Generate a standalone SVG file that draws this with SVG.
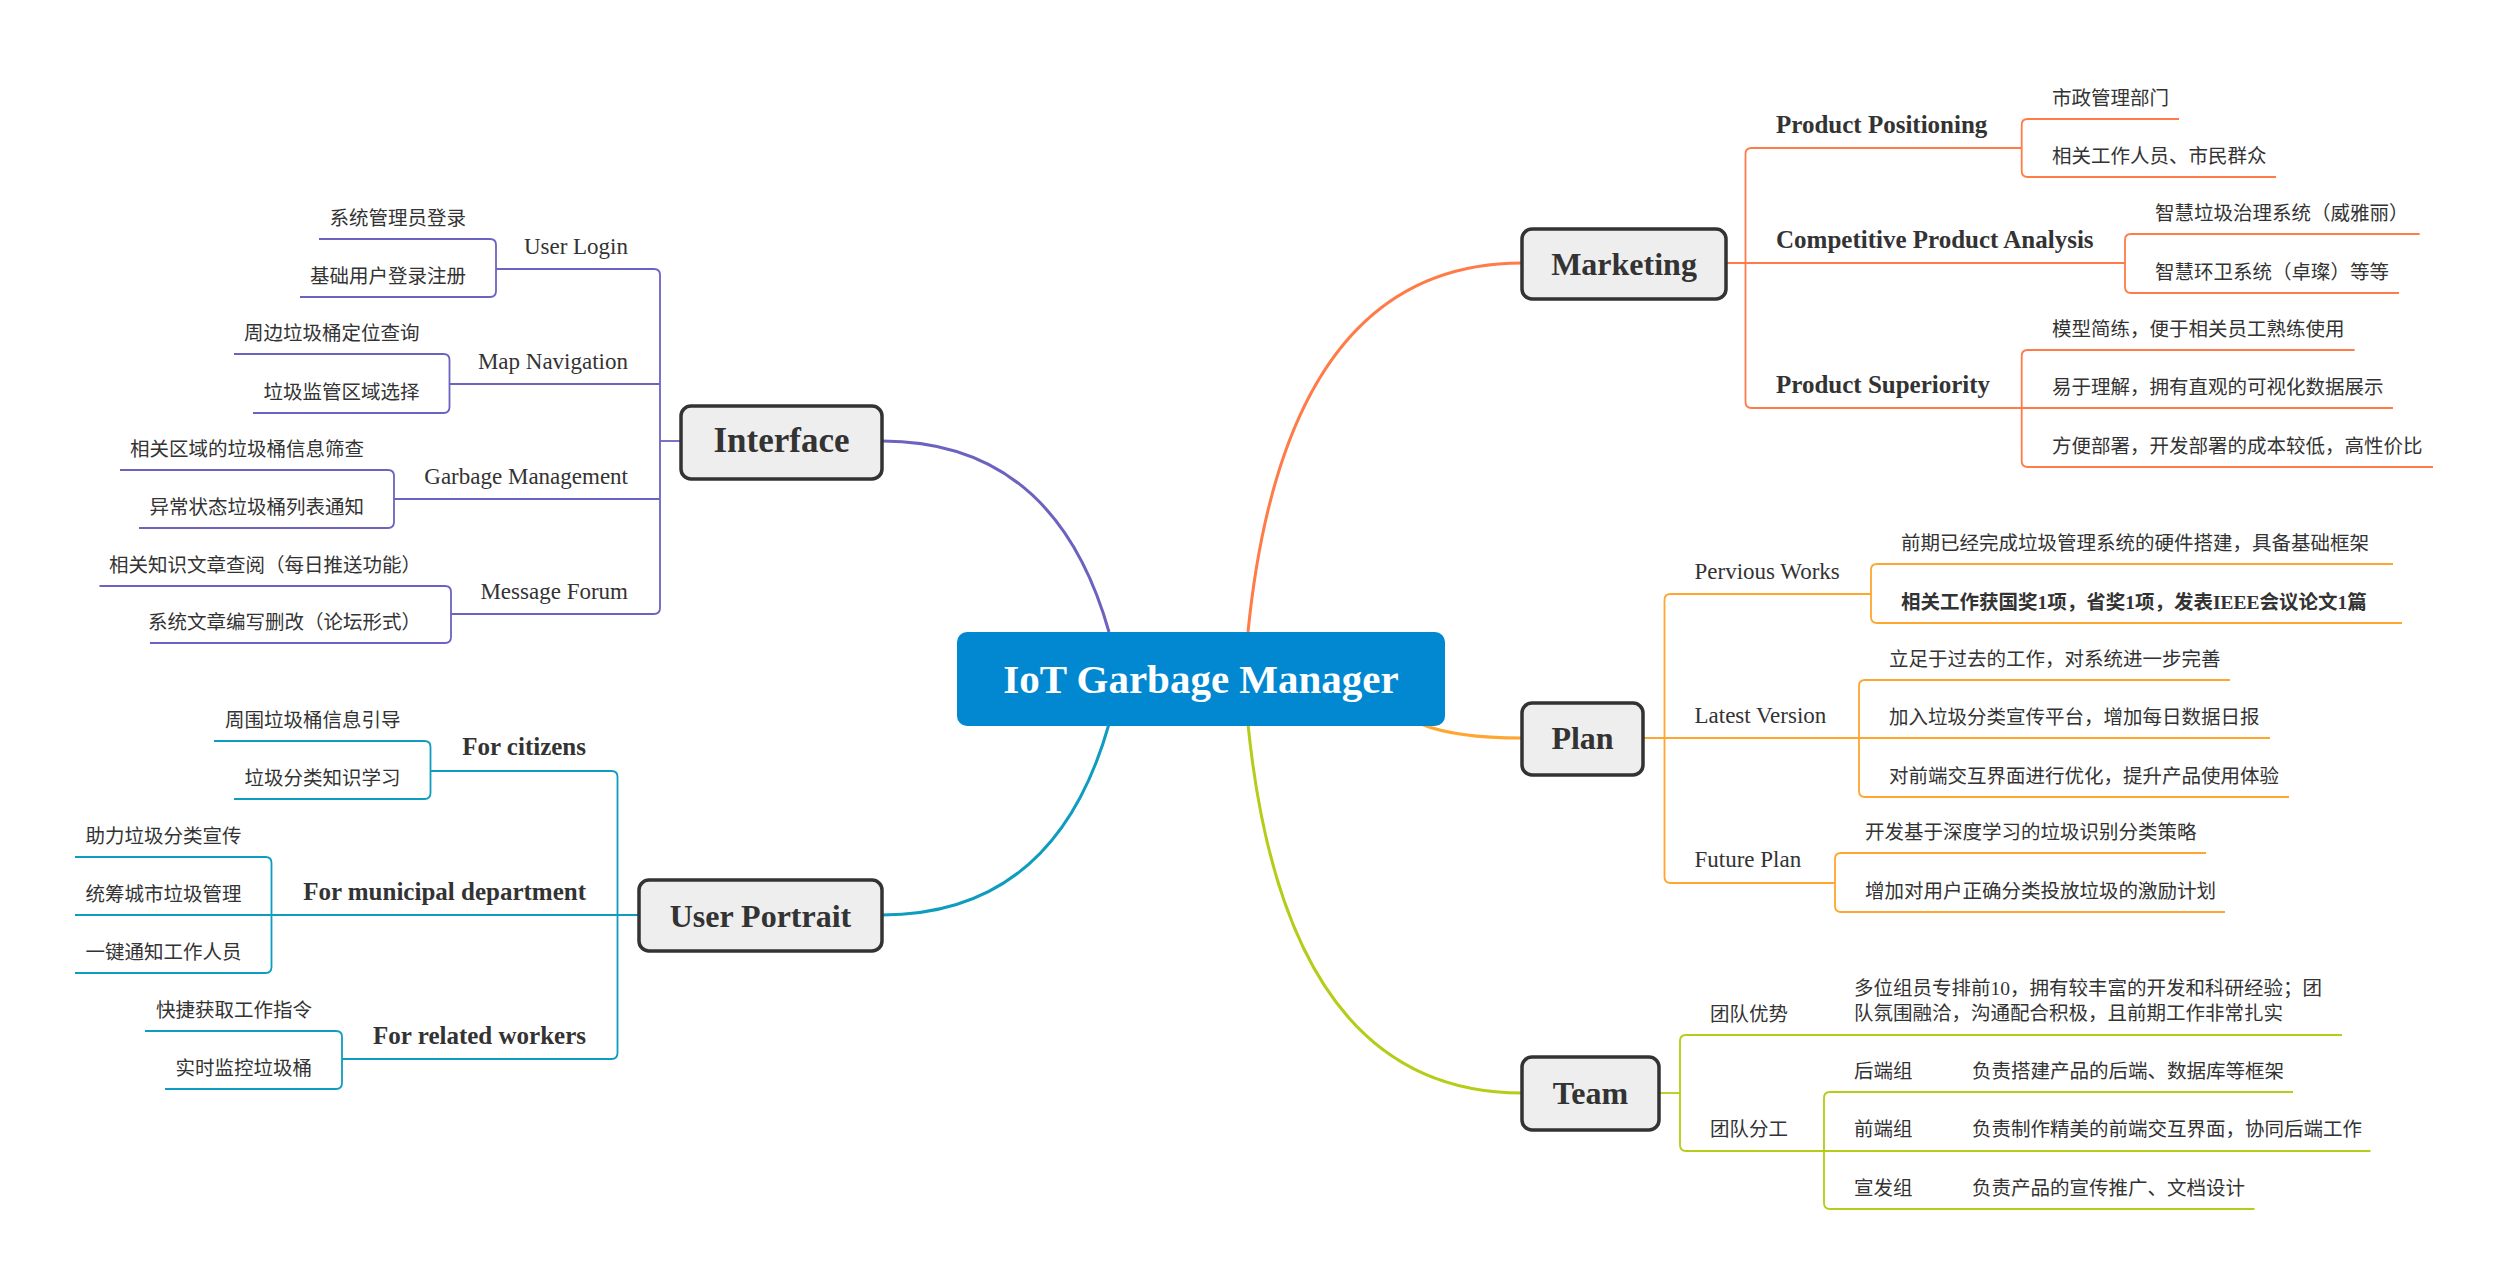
<svg xmlns="http://www.w3.org/2000/svg" width="2508" height="1285" viewBox="0 0 2508 1285">
<style>
.t{font-family:"Liberation Serif","Noto Sans CJK SC",serif;fill:#333333}
.cn{font-size:19.5px}
.sub{font-size:23px}
.subb{font-size:25px;font-weight:bold}
.cnb{font-size:19.5px;font-weight:bold}
.main{font-size:32px;font-weight:bold;text-anchor:middle}
.end{text-anchor:end}
.box{fill:#EEEEEE;stroke:#333333;stroke-width:3.5}
.ln{fill:none;stroke-width:1.8}
.cv{fill:none;stroke-width:3}
.pu{stroke:#6C63C0}
.te{stroke:#0E9DBF}
.or{stroke:#FF7B47}
.ye{stroke:#FFA630}
.li{stroke:#B5CC18}
</style>
<rect width="2508" height="1285" fill="#FFFFFF"/>
<g id="connectors">
  <path class="cv pu" d="M1109,632 Q1055,441 882,441"/>
  <path class="cv te" d="M1109,724 Q1055,915 882,915"/>
  <path class="cv or" d="M1248,632 Q1285,263 1522,263"/>
  <path class="cv li" d="M1248,724 Q1285,1093 1522,1093"/>
  <path class="cv ye" d="M1421,724 Q1455,738 1522,738"/>
  <!-- Interface -->
  <path class="ln pu" d="M681,441 H660"/>
  <path class="ln pu" d="M496,269 H654 Q660,269 660,275 V608 Q660,614 654,614 H451"/>
  <path class="ln pu" d="M660,384 H449.5"/>
  <path class="ln pu" d="M660,499 H394"/>
  <path class="ln pu" d="M319,239 H490 Q496,239 496,245 V291 Q496,297 490,297 H300"/>
  <path class="ln pu" d="M234,354 H443.5 Q449.5,354 449.5,360 V407 Q449.5,413 443.5,413 H253"/>
  <path class="ln pu" d="M120,470 H388 Q394,470 394,476 V522 Q394,528 388,528 H139"/>
  <path class="ln pu" d="M99.5,586 H445 Q451,586 451,592 V637 Q451,643 445,643 H150"/>
  <!-- User Portrait -->
  <path class="ln te" d="M430.5,771 H611.5 Q617.5,771 617.5,777 V1053 Q617.5,1059 611.5,1059 H342"/>
  <path class="ln te" d="M639,915 H75"/>
  <path class="ln te" d="M214,741 H424.5 Q430.5,741 430.5,747 V793 Q430.5,799 424.5,799 H234"/>
  <path class="ln te" d="M75,857 H265.5 Q271.5,857 271.5,863 V967 Q271.5,973 265.5,973 H75"/>
  <path class="ln te" d="M145,1031 H336 Q342,1031 342,1037 V1083 Q342,1089 336,1089 H165"/>
  <!-- Marketing -->
  <path class="ln or" d="M1726,263 H2125"/>
  <path class="ln or" d="M2021.7,148 H1751.5 Q1745.5,148 1745.5,154 V402 Q1745.5,408 1751.5,408 H2393"/>
  <path class="ln or" d="M2179,119 H2027.7 Q2021.7,119 2021.7,125 V171 Q2021.7,177 2027.7,177 H2276"/>
  <path class="ln or" d="M2419.6,234 H2131 Q2125,234 2125,240 V287 Q2125,293 2131,293 H2399"/>
  <path class="ln or" d="M2354.6,350 H2027.7 Q2021.7,350 2021.7,356 V461 Q2021.7,467 2027.7,467 H2433"/>
  <!-- Plan -->
  <path class="ln ye" d="M1643.5,738 H2270"/>
  <path class="ln ye" d="M1871,594 H1670.5 Q1664.5,594 1664.5,600 V877 Q1664.5,883 1670.5,883 H1835"/>
  <path class="ln ye" d="M2393,564 H1877 Q1871,564 1871,570 V617 Q1871,623 1877,623 H2402"/>
  <path class="ln ye" d="M2230,680 H1865 Q1859,680 1859,686 V791 Q1859,797 1865,797 H2289"/>
  <path class="ln ye" d="M2206,853 H1841 Q1835,853 1835,859 V906 Q1835,912 1841,912 H2225"/>
  <!-- Team -->
  <path class="ln li" d="M1659.4,1093 H1680"/>
  <path class="ln li" d="M2342,1035 H1686 Q1680,1035 1680,1041 V1145 Q1680,1151 1686,1151 H2370.5"/>
  <path class="ln li" d="M2293,1092 H1830 Q1824,1092 1824,1098 V1203 Q1824,1209 1830,1209 H2254.5"/>
</g>
<g id="center">
  <rect x="957" y="632" width="488" height="94" rx="10" fill="#0288D1"/>
  <text x="1201" y="693" font-family="Liberation Serif, serif" font-size="41" font-weight="bold" fill="#FFFFFF" text-anchor="middle">IoT Garbage Manager</text>
</g>
<g id="interface">
  <rect class="box" x="681" y="406" width="201" height="73" rx="10"/>
  <text class="t main" x="781.5" y="452" style="font-size:35px">Interface</text>
  <text class="t sub end" x="628" y="253.5">User Login</text>
  <text class="t sub end" x="628" y="368.5">Map Navigation</text>
  <text class="t sub end" x="628" y="483.5">Garbage Management</text>
  <text class="t sub end" x="628" y="598.5">Message Forum</text>
  <text class="t cn end" x="466" y="225">系统管理员登录</text>
  <text class="t cn end" x="466" y="283">基础用户登录注册</text>
  <text class="t cn end" x="419.5" y="340">周边垃圾桶定位查询</text>
  <text class="t cn end" x="419.5" y="399">垃圾监管区域选择</text>
  <text class="t cn end" x="364" y="456">相关区域的垃圾桶信息筛查</text>
  <text class="t cn end" x="364" y="514">异常状态垃圾桶列表通知</text>
  <text class="t cn end" x="421" y="572">相关知识文章查阅（每日推送功能）</text>
  <text class="t cn end" x="421" y="629">系统文章编写删改（论坛形式）</text>
</g>
<g id="user-portrait">
  <rect class="box" x="639" y="880" width="243" height="71" rx="10"/>
  <text class="t main" x="760.5" y="926.5">User Portrait</text>
  <text class="t subb end" x="586" y="755">For citizens</text>
  <text class="t subb end" x="586" y="900">For municipal department</text>
  <text class="t subb end" x="586" y="1044">For related workers</text>
  <text class="t cn end" x="400.5" y="727">周围垃圾桶信息引导</text>
  <text class="t cn end" x="400.5" y="785">垃圾分类知识学习</text>
  <text class="t cn end" x="241.5" y="843">助力垃圾分类宣传</text>
  <text class="t cn end" x="241.5" y="901">统筹城市垃圾管理</text>
  <text class="t cn end" x="241.5" y="959">一键通知工作人员</text>
  <text class="t cn end" x="312" y="1017">快捷获取工作指令</text>
  <text class="t cn end" x="312" y="1075">实时监控垃圾桶</text>
</g>
<g id="marketing">
  <rect class="box" x="1522" y="229" width="204" height="70" rx="10"/>
  <text class="t main" x="1624" y="274.5">Marketing</text>
  <text class="t subb" x="1776" y="132.5">Product Positioning</text>
  <text class="t subb" x="1776" y="248">Competitive Product Analysis</text>
  <text class="t subb" x="1776" y="393">Product Superiority</text>
  <text class="t cn" x="2052" y="105">市政管理部门</text>
  <text class="t cn" x="2052" y="163">相关工作人员、市民群众</text>
  <text class="t cn" x="2155" y="220">智慧垃圾治理系统（威雅丽）</text>
  <text class="t cn" x="2155" y="279">智慧环卫系统（卓璨）等等</text>
  <text class="t cn" x="2052" y="336">模型简练，便于相关员工熟练使用</text>
  <text class="t cn" x="2052" y="394">易于理解，拥有直观的可视化数据展示</text>
  <text class="t cn" x="2052" y="452.5">方便部署，开发部署的成本较低，高性价比</text>
</g>
<g id="plan">
  <rect class="box" x="1522" y="703" width="121" height="72" rx="10"/>
  <text class="t main" x="1582.5" y="749">Plan</text>
  <text class="t sub" x="1694.5" y="578.5">Pervious Works</text>
  <text class="t sub" x="1694.5" y="723">Latest Version</text>
  <text class="t sub" x="1694.5" y="867">Future Plan</text>
  <text class="t cn" x="1901" y="550">前期已经完成垃圾管理系统的硬件搭建，具备基础框架</text>
  <text class="t cnb" x="1901" y="609">相关工作获国奖1项，省奖1项，发表IEEE会议论文1篇</text>
  <text class="t cn" x="1889" y="666">立足于过去的工作，对系统进一步完善</text>
  <text class="t cn" x="1889" y="724">加入垃圾分类宣传平台，增加每日数据日报</text>
  <text class="t cn" x="1889" y="782.5">对前端交互界面进行优化，提升产品使用体验</text>
  <text class="t cn" x="1865" y="839">开发基于深度学习的垃圾识别分类策略</text>
  <text class="t cn" x="1865" y="898">增加对用户正确分类投放垃圾的激励计划</text>
</g>
<g id="team">
  <rect class="box" x="1522" y="1057" width="137" height="73" rx="10"/>
  <text class="t main" x="1590.5" y="1103.5">Team</text>
  <text class="t cn" x="1710" y="1020.5">团队优势</text>
  <text class="t cn" x="1710" y="1135.5">团队分工</text>
  <text class="t cn" x="1854" y="995">多位组员专排前10，拥有较丰富的开发和科研经验；团</text>
  <text class="t cn" x="1854" y="1020">队氛围融洽，沟通配合积极，且前期工作非常扎实</text>
  <text class="t cn" x="1854" y="1078">后端组</text>
  <text class="t cn" x="1972" y="1078">负责搭建产品的后端、数据库等框架</text>
  <text class="t cn" x="1854" y="1136">前端组</text>
  <text class="t cn" x="1972" y="1136">负责制作精美的前端交互界面，协同后端工作</text>
  <text class="t cn" x="1854" y="1194.5">宣发组</text>
  <text class="t cn" x="1972" y="1194.5">负责产品的宣传推广、文档设计</text>
</g>
</svg>
